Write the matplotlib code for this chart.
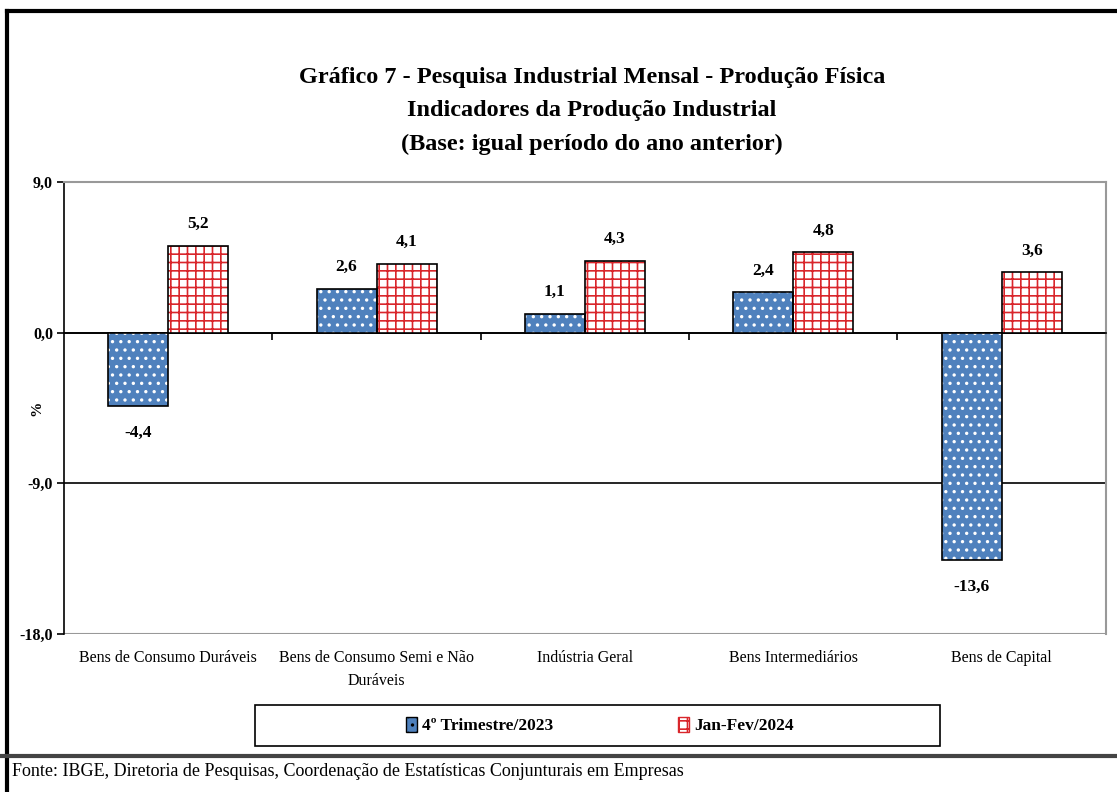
import matplotlib
matplotlib.use("Agg")
import matplotlib.pyplot as plt
from matplotlib.lines import Line2D
from matplotlib.patches import Patch, Rectangle
import numpy as np

categorias = ["Bens de Consumo Duráveis", "Bens de Consumo Semi e Não\nDuráveis",
              "Indústria Geral", "Bens Intermediários", "Bens de Capital"]
trim_2023 = [-4.4, 2.6, 1.1, 2.4, -13.6]
janfev_2024 = [5.2, 4.1, 4.3, 4.8, 3.6]
series = ["4º Trimestre/2023", "Jan-Fev/2024"]
y_ticks = [9.0, 0.0, -9.0, -18.0]

plt.rcParams['font.family'] = ['Liberation Serif', 'DejaVu Serif']
plt.rcParams['hatch.linewidth'] = 1.2

azul = '#4F81BD'
vermelho = '#D9262B'

fig = plt.figure(figsize=(11.17, 7.92), dpi=100)
ax = fig.add_axes([0.0573, 0.1995, 0.9327, 0.5707])

x = np.arange(len(categorias))
w = 0.288

# barras azuis (pontilhado branco)
ax.bar(x - w / 2, trim_2023, w, color=azul, edgecolor='white', hatch='..', linewidth=0, zorder=3)
ax.bar(x - w / 2, trim_2023, w, fill=False, edgecolor='black', linewidth=1.2, zorder=4)
# barras vermelhas (tijolo)
ax.bar(x + w / 2, janfev_2024, w, color='white', edgecolor=vermelho, hatch='++', linewidth=0, zorder=3)
ax.bar(x + w / 2, janfev_2024, w, fill=False, edgecolor='black', linewidth=1.2, zorder=4)

def fmt(v):
    return f"{v:.1f}".replace('.', ',')

for xs, vals in [(x - w / 2, trim_2023), (x + w / 2, janfev_2024)]:
    for xi, v in zip(xs, vals):
        off = 10 if v >= 0 else -13
        ax.annotate(fmt(v), (xi, v), xytext=(0, off), textcoords='offset points',
                    ha='center', va='bottom' if v >= 0 else 'top',
                    fontsize=12.5, fontweight='bold')

ax.set_xlim(-0.5, len(categorias) - 0.5)
ax.set_ylim(-18, 9)
ax.set_yticks(y_ticks)
ax.set_yticklabels([fmt(v) for v in y_ticks], fontsize=11.5, fontweight='bold')
ax.tick_params(axis='y', direction='out', length=5, width=1.2, pad=3)

# linhas de grade
for v in [0.0, -9.0]:
    ax.axhline(v, color='black', linewidth=1.2, zorder=2)

# eixo x no zero com marcas entre categorias
ax.spines['bottom'].set_position(('data', 0))
ax.spines['bottom'].set_color('black')
ax.spines['bottom'].set_linewidth(1.2)
ax.set_xticks(x[:-1] + 0.5)
ax.set_xticklabels([])
ax.tick_params(axis='x', direction='out', length=5, width=1.2)
ax.axhline(-18, color='#999999', linewidth=1.5, zorder=2)
ax.spines['top'].set_color('#999999')
ax.spines['top'].set_linewidth(1.5)
ax.spines['right'].set_color('#999999')
ax.spines['right'].set_linewidth(1.5)
ax.spines['left'].set_linewidth(1.2)

for xi, nome in zip(x, categorias):
    ax.text(xi, -0.035, nome, transform=ax.get_xaxis_transform(), ha='center', va='top',
            fontsize=11.5, linespacing=1.6)

ax.set_ylabel('%', fontsize=11, fontweight='bold')
ax.yaxis.set_label_coords(-0.02, 0.5)

fig.text(0.53, 0.915, "Gráfico 7 - Pesquisa Industrial Mensal - Produção Física\n"
         "Indicadores da Produção Industrial\n(Base: igual período do ano anterior)",
         ha='center', va='top', fontsize=17.5, fontweight='bold', linespacing=1.75)

# caixa da legenda
fig.add_artist(Rectangle((0.2283, 0.0581), 0.6133, 0.0518, transform=fig.transFigure,
                         fill=False, edgecolor='black', linewidth=1.2))
handles = [Patch(facecolor=azul, edgecolor='black', hatch='..'),
           Patch(facecolor='white', edgecolor=vermelho, hatch='++')]
fig.legend(handles, series, loc='center', bbox_to_anchor=(0.537, 0.084),
           ncol=2, frameon=False, handlelength=0.6, handleheight=1.0, handletextpad=0.3,
           columnspacing=7.2, borderaxespad=0, prop={'weight': 'bold', 'size': 12.5})

fig.text(0.011, 0.015, "Fonte: IBGE, Diretoria de Pesquisas, Coordenação de Estatísticas Conjunturais em Empresas",
         ha='left', va='bottom', fontsize=13)

# moldura
fig.add_artist(Line2D([0.0065, 1.0], [0.986, 0.986], color='black', linewidth=3))
fig.add_artist(Line2D([0.0065, 0.0065], [0.986, 0.0], color='black', linewidth=3))
fig.add_artist(Line2D([0.0, 1.0], [0.046, 0.046], color='#444444', linewidth=3))

fig.savefig('out.png', dpi=100)
